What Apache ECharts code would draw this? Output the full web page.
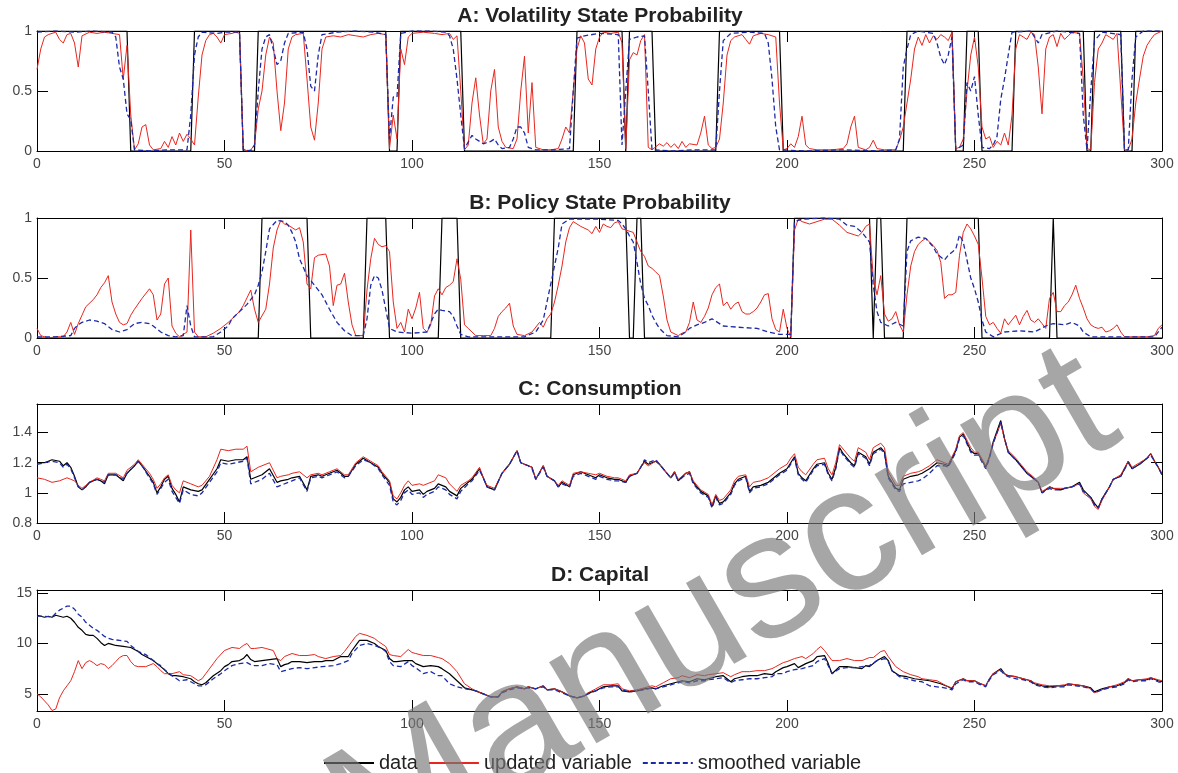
<!DOCTYPE html>
<html>
<head>
<meta charset="utf-8">
<script src="https://cdn.jsdelivr.net/npm/echarts@6/dist/echarts.min.js"></script>
<style>
  html, body { margin: 0; padding: 0; background: #fff; }
  #chart { width: 1178px; height: 773px; }
</style>
</head>
<body>
<div id="chart"></div>
<script>
// tick labels
var xTicks = [0, 50, 100, 150, 200, 250, 300];
var aTicks = [0, 0.5, 1];
var bTicks = [0, 0.5, 1];
var cTicks = [0.8, 1, 1.2, 1.4];
var dTicks = [5, 10, 15];

var seriesNames = ['data', 'updated variable', 'smoothed variable'];

// A: volatility state probability  [t, value]
var aData = [[0,1],[24,1],[25,0],[41,0],[42,1],[54,1],[55,0],[58,0],[59,1],[93,1],[94,0],[96,0],[97,1],[113,1],[114,0],[143,0],[144,1],[156,1],[157,0],[158,1],[164,1],[165,0],[181,0],[182,1],[198,1],[199,0],[231,0],[232,1],[244,1],[245,0],[247,0],[248,1],[251,1],[252,0],[260,0],[261,1],[279,1],[280,0],[281,0],[282,1],[289,1],[290,0],[292,0],[293,1],[300,1]];
var aUpdated = [[0,0.68],[1,0.85],[2,0.95],[3,0.97],[5,0.99],[6,0.93],[7,0.9],[8,0.97],[9,0.98],[10,0.9],[11,0.7],[12,0.96],[14,0.99],[16,0.98],[18,0.99],[20,0.98],[22,0.97],[23,0.6],[24,0.88],[25,0.3],[26,0.01],[27,0.06],[28,0.2],[29,0.22],[30,0.05],[31,0.01],[33,0.02],[34,0.08],[35,0.03],[36,0.12],[37,0.05],[38,0.15],[39,0.08],[40,0.14],[41,0.1],[42,0.05],[43,0.45],[44,0.8],[45,0.92],[46,0.97],[47,0.98],[48,0.95],[49,0.9],[50,0.97],[52,0.98],[53,0.99],[54,0.98],[55,0.02],[56,0],[57,0.01],[58,0.05],[59,0.35],[60,0.5],[61,0.8],[62,0.95],[63,0.9],[64,0.5],[65,0.17],[66,0.4],[67,0.85],[68,0.95],[69,0.97],[71,0.98],[72,0.6],[73,0.2],[74,0.09],[75,0.4],[76,0.85],[77,0.95],[79,0.96],[81,0.95],[83,0.97],[85,0.96],[87,0.95],[89,0.97],[91,0.98],[93,0.97],[94,0.02],[95,0.3],[96,0.1],[97,0.85],[98,0.72],[99,0.95],[100,0.98],[103,0.99],[106,0.98],[108,0.97],[110,0.98],[111,0.93],[112,0.96],[113,0.5],[114,0.01],[115,0.05],[116,0.4],[117,0.61],[118,0.3],[119,0.06],[120,0.1],[121,0.5],[122,0.68],[123,0.2],[124,0.08],[125,0.03],[127,0.02],[128,0.1],[129,0.5],[130,0.79],[131,0.15],[132,0.57],[133,0.03],[135,0.01],[137,0.01],[139,0.02],[140,0.1],[141,0.2],[142,0.15],[143,0.5],[144,0.85],[145,0.96],[146,0.9],[147,0.6],[148,0.55],[149,0.85],[150,0.95],[151,0.99],[153,0.98],[155,0.99],[156,0.9],[157,0.02],[158,0.76],[159,0.82],[160,0.8],[161,0.92],[162,0.97],[163,0.03],[164,0.01],[166,0.06],[167,0.04],[168,0.07],[169,0.03],[170,0.06],[171,0.02],[172,0.08],[173,0.03],[174,0.06],[176,0.05],[177,0.15],[178,0.29],[179,0.05],[180,0.02],[181,0.03],[182,0.1],[183,0.4],[184,0.8],[185,0.92],[186,0.95],[188,0.97],[189,0.93],[190,0.89],[191,0.96],[193,0.98],[195,0.97],[197,0.95],[198,0.4],[199,0.01],[200,0.02],[201,0.06],[202,0.03],[203,0.12],[204,0.29],[205,0.05],[206,0.02],[208,0.01],[212,0.01],[215,0.02],[216,0.06],[217,0.2],[218,0.29],[219,0.03],[221,0.01],[222,0.03],[223,0.09],[224,0.02],[226,0.01],[229,0.01],[230,0.09],[231,0.2],[232,0.4],[233,0.6],[234,0.85],[235,0.95],[236,0.88],[237,0.97],[238,0.9],[239,0.96],[240,0.93],[241,0.97],[242,0.95],[243,0.92],[244,0.99],[245,0.02],[246,0.03],[247,0.1],[248,0.5],[249,0.8],[250,0.95],[251,0.7],[252,0.2],[253,0.1],[254,0.12],[255,0.03],[256,0.08],[257,0.05],[258,0.15],[259,0.05],[260,0.3],[261,0.85],[262,0.97],[263,0.95],[264,0.93],[265,0.99],[266,0.97],[267,0.7],[268,0.31],[269,0.85],[270,0.95],[271,0.97],[272,0.87],[273,0.98],[274,0.93],[275,0.96],[276,0.99],[278,0.98],[279,0.6],[280,0.02],[281,0.01],[282,0.57],[283,0.85],[284,0.9],[285,0.97],[286,0.95],[287,0.93],[288,0.98],[289,0.5],[290,0.01],[291,0.01],[292,0.1],[293,0.4],[294,0.6],[295,0.79],[296,0.88],[297,0.93],[298,0.97],[300,1]];
var aSmoothed = [[0,0.99],[5,1],[10,0.99],[15,1],[20,0.99],[21,0.95],[22,0.7],[23,0.6],[24,0.31],[25,0.26],[26,0.01],[30,0],[35,0.01],[40,0.01],[41,0.3],[42,0.8],[43,0.95],[44,0.99],[48,0.98],[50,0.99],[54,0.99],[55,0.01],[57,0],[58,0.05],[59,0.5],[60,0.85],[61,0.95],[62,0.97],[63,0.85],[64,0.72],[65,0.75],[66,0.9],[67,0.98],[71,0.99],[72,0.85],[73,0.54],[74,0.5],[75,0.8],[76,0.97],[80,0.99],[85,1],[90,0.99],[93,0.97],[94,0.1],[95,0.45],[96,0.45],[97,0.98],[100,1],[105,1],[109,0.99],[110,0.96],[111,0.85],[112,0.6],[113,0.3],[114,0.02],[116,0.13],[117,0.1],[118,0.08],[119,0.06],[121,0.08],[122,0.1],[123,0.05],[124,0.02],[126,0.03],[127,0.1],[128,0.2],[129,0.2],[130,0.15],[131,0.03],[133,0.01],[138,0.01],[142,0.02],[143,0.5],[144,0.94],[146,0.96],[150,0.98],[155,0.97],[156,0.05],[157,0.5],[158,0.93],[160,0.95],[162,0.96],[163,0.5],[164,0.01],[170,0],[175,0.01],[181,0.01],[182,0.5],[183,0.92],[185,0.98],[190,0.99],[194,0.98],[195,0.9],[196,0.6],[197,0.2],[198,0.01],[205,0],[215,0.01],[225,0],[229,0.01],[230,0.1],[231,0.7],[232,0.85],[233,0.97],[235,1],[239,0.98],[240,0.9],[241,0.78],[242,0.72],[243,0.8],[244,0.95],[245,0.01],[247,0.05],[248,0.57],[249,0.5],[250,0.62],[251,0.3],[252,0.03],[254,0.02],[255,0.05],[256,0.12],[257,0.43],[258,0.6],[259,0.8],[260,0.99],[265,1],[267,0.9],[268,0.97],[272,1],[278,0.98],[279,0.3],[280,0.01],[281,0.5],[282,0.92],[284,0.99],[289,0.97],[290,0.01],[291,0.01],[292,0.6],[293,0.95],[295,1],[300,1]];

// B: policy state probability
var bData = [[0,0],[59,0],[60,1],[72,1],[73,0],[87,0],[88,1],[93,1],[94,0],[107,0],[108,1],[112,1],[113,0],[137,0],[138,1],[157,1],[158,0],[159,0],[160,1],[161,1],[162,0],[201,0],[202,1],[222,1],[223,0],[224,1],[225,1],[226,0],[231,0],[232,1],[251,1],[252,0],[270,0],[271,1],[272,0],[300,0]];
var bUpdated = [[0,0.08],[1,0.02],[3,0],[5,0.01],[7,0.01],[8,0.05],[9,0.13],[10,0.03],[11,0.12],[12,0.19],[13,0.26],[15,0.32],[16,0.36],[17,0.42],[18,0.46],[19,0.52],[20,0.3],[21,0.2],[22,0.13],[23,0.11],[24,0.12],[25,0.19],[26,0.24],[28,0.33],[30,0.41],[31,0.36],[32,0.15],[33,0.2],[34,0.45],[35,0.5],[36,0.1],[37,0.04],[38,0.01],[40,0.05],[41,0.9],[42,0.05],[43,0.01],[45,0.01],[47,0.04],[49,0.08],[51,0.13],[52,0.16],[54,0.22],[55,0.27],[57,0.4],[58,0.24],[59,0.13],[61,0.24],[62,0.45],[63,0.75],[64,0.9],[65,0.98],[66,0.95],[67,0.94],[68,0.92],[69,0.9],[70,0.92],[71,0.8],[72,0.45],[73,0.41],[74,0.67],[75,0.69],[77,0.7],[78,0.6],[79,0.27],[80,0.44],[81,0.45],[82,0.54],[83,0.3],[84,0.11],[85,0.02],[87,0.02],[88,0.4],[89,0.66],[90,0.83],[91,0.78],[92,0.76],[93,0.77],[94,0.72],[95,0.3],[96,0.08],[97,0.13],[98,0.05],[99,0.24],[100,0.16],[101,0.25],[102,0.38],[103,0.08],[104,0.05],[105,0.11],[106,0.35],[107,0.41],[108,0.36],[109,0.42],[110,0.44],[111,0.47],[112,0.66],[113,0.49],[114,0.11],[115,0.08],[117,0.02],[119,0.02],[121,0.02],[122,0.08],[123,0.18],[124,0.22],[125,0.25],[126,0.29],[127,0.1],[128,0.03],[130,0.02],[132,0.05],[134,0.13],[135,0.09],[136,0.16],[137,0.2],[138,0.3],[139,0.44],[140,0.6],[141,0.8],[142,0.92],[143,0.97],[144,0.95],[145,0.93],[147,0.9],[148,0.87],[149,0.93],[150,0.88],[151,0.95],[152,0.93],[153,0.92],[154,0.96],[155,0.97],[156,0.91],[157,0.9],[159,0.88],[160,0.8],[161,0.72],[162,0.68],[163,0.6],[164,0.58],[165,0.55],[166,0.52],[167,0.35],[168,0.15],[169,0.05],[171,0.02],[172,0.04],[173,0.05],[174,0.13],[175,0.3],[176,0.15],[177,0.13],[178,0.18],[179,0.25],[180,0.36],[181,0.42],[182,0.45],[183,0.27],[184,0.3],[185,0.24],[186,0.28],[187,0.3],[188,0.22],[189,0.2],[190,0.2],[191,0.22],[192,0.25],[193,0.3],[194,0.36],[195,0.37],[196,0.16],[197,0.07],[198,0.05],[199,0.24],[200,0.08],[201,0.01],[202,0.9],[203,0.99],[204,0.97],[206,0.95],[208,0.97],[210,0.99],[212,0.99],[214,0.94],[216,0.88],[218,0.86],[219,0.85],[220,0.88],[221,0.93],[222,0.95],[223,0.5],[224,0.36],[225,0.52],[226,0.2],[227,0.14],[228,0.16],[229,0.22],[230,0.11],[231,0.05],[232,0.36],[233,0.6],[234,0.72],[235,0.78],[236,0.81],[237,0.83],[238,0.8],[239,0.77],[240,0.73],[241,0.63],[242,0.33],[243,0.36],[244,0.36],[245,0.38],[246,0.69],[247,0.88],[248,0.95],[249,0.91],[250,0.85],[251,0.78],[252,0.5],[253,0.18],[254,0.11],[255,0.13],[256,0.08],[257,0.04],[258,0.16],[259,0.11],[260,0.15],[261,0.19],[262,0.11],[263,0.18],[264,0.23],[265,0.15],[266,0.13],[267,0.16],[268,0.12],[269,0.08],[270,0.33],[271,0.38],[272,0.22],[273,0.22],[274,0.27],[275,0.3],[276,0.36],[277,0.44],[278,0.33],[279,0.25],[280,0.16],[281,0.11],[282,0.09],[283,0.08],[284,0.09],[285,0.05],[286,0.06],[287,0.08],[288,0.11],[289,0.05],[290,0.01],[293,0.01],[296,0.01],[298,0.02],[299,0.08],[300,0.11]];
var bSmoothed = [[0,0.01],[5,0.01],[9,0.02],[10,0.08],[11,0.11],[12,0.13],[14,0.15],[16,0.14],[18,0.12],[20,0.07],[22,0.05],[24,0.07],[26,0.12],[28,0.13],[30,0.12],[31,0.1],[33,0.05],[35,0.02],[37,0.01],[39,0.02],[40,0.27],[41,0.1],[42,0.01],[47,0.01],[49,0.05],[51,0.1],[52,0.16],[54,0.22],[56,0.28],[58,0.36],[59,0.44],[60,0.55],[61,0.72],[62,0.91],[64,0.98],[66,0.97],[67,0.94],[68,0.88],[69,0.8],[70,0.66],[72,0.52],[74,0.44],[76,0.36],[78,0.24],[80,0.13],[82,0.06],[84,0.02],[87,0.02],[88,0.16],[89,0.44],[90,0.52],[91,0.5],[92,0.4],[93,0.24],[94,0.08],[96,0.05],[100,0.04],[104,0.05],[106,0.2],[107,0.24],[108,0.23],[110,0.22],[111,0.18],[112,0.1],[113,0.03],[115,0.01],[125,0.01],[130,0.01],[133,0.05],[135,0.15],[136,0.3],[137,0.45],[138,0.6],[139,0.75],[140,0.95],[142,0.99],[150,0.99],[155,0.98],[156,0.95],[157,0.91],[158,0.85],[159,0.8],[160,0.63],[161,0.45],[162,0.33],[163,0.27],[164,0.19],[165,0.13],[166,0.08],[168,0.02],[171,0.01],[173,0.05],[174,0.08],[176,0.11],[178,0.13],[180,0.16],[183,0.1],[187,0.09],[192,0.08],[195,0.05],[198,0.03],[201,0.03],[202,0.97],[204,0.99],[210,1],[214,0.99],[216,0.94],[218,0.93],[220,0.88],[222,0.8],[223,0.44],[224,0.22],[225,0.13],[227,0.1],[229,0.13],[231,0.1],[232,0.72],[233,0.81],[235,0.84],[237,0.83],[239,0.76],[240,0.7],[242,0.65],[243,0.69],[245,0.74],[246,0.86],[247,0.8],[248,0.65],[249,0.5],[250,0.41],[251,0.3],[252,0.15],[253,0.05],[255,0.01],[258,0.05],[262,0.06],[266,0.05],[269,0.1],[271,0.12],[274,0.11],[276,0.13],[278,0.1],[279,0.05],[281,0.01],[290,0.01],[298,0.01],[300,0.09]];

// C: consumption
var cData = [[0,1.2],[2,1.2],[4,1.22],[6,1.21],[7,1.18],[8,1.2],[9,1.17],[10,1.11],[11,1.04],[12,1.02],[13,1.04],[14,1.07],[16,1.09],[17,1.08],[18,1.06],[19,1.12],[21,1.12],[23,1.08],[24,1.13],[26,1.18],[27,1.21],[28,1.18],[30,1.11],[31,1.07],[32,1.0],[33,1.04],[34,1.09],[35,1.11],[36,1.03],[37,0.99],[38,0.94],[39,1.04],[41,1.02],[43,1.01],[44,1.02],[46,1.09],[48,1.16],[49,1.22],[51,1.21],[53,1.22],[55,1.22],[56,1.24],[57,1.09],[59,1.11],[60,1.12],[62,1.16],[64,1.07],[65,1.08],[67,1.09],[68,1.1],[70,1.11],[72,1.02],[73,1.11],[75,1.12],[76,1.11],[78,1.13],[80,1.15],[82,1.11],[83,1.11],[85,1.19],[87,1.23],[89,1.2],[91,1.17],[92,1.13],[94,1.07],[95,0.96],[96,0.94],[97,0.97],[98,1.02],[99,1.04],[100,1.01],[102,1.02],[103,0.99],[104,1.01],[106,1.03],[107,1.06],[109,1.04],[110,1.01],[112,0.98],[113,1.03],[115,1.07],[116,1.09],[118,1.16],[119,1.1],[120,1.04],[122,1.02],[124,1.13],[126,1.19],[128,1.28],[129,1.2],[131,1.18],[132,1.17],[133,1.09],[135,1.18],[136,1.11],[138,1.08],[139,1.04],[140,1.07],[142,1.04],[143,1.12],[145,1.14],[147,1.12],[149,1.1],[150,1.12],[152,1.1],[154,1.09],[155,1.09],[157,1.07],[158,1.11],[160,1.13],[161,1.17],[162,1.21],[163,1.19],[165,1.21],[166,1.19],[167,1.16],[169,1.1],[170,1.14],[171,1.08],[173,1.13],[174,1.14],[175,1.07],[177,1.01],[179,0.98],[180,0.91],[181,0.98],[182,0.93],[183,0.94],[185,1.0],[186,1.06],[187,1.09],[189,1.11],[190,1.01],[191,1.04],[193,1.05],[195,1.07],[196,1.09],[198,1.13],[200,1.16],[201,1.2],[202,1.24],[203,1.13],[204,1.1],[205,1.08],[207,1.16],[208,1.19],[210,1.2],[211,1.13],[212,1.09],[213,1.17],[214,1.3],[215,1.26],[217,1.2],[218,1.18],[219,1.27],[221,1.24],[222,1.19],[223,1.27],[225,1.3],[226,1.27],[227,1.11],[229,1.03],[230,1.02],[231,1.09],[233,1.11],[235,1.12],[236,1.13],[238,1.16],[240,1.2],[242,1.19],[243,1.18],[245,1.28],[246,1.37],[247,1.39],[249,1.28],[250,1.26],[251,1.26],[253,1.17],[254,1.24],[255,1.34],[257,1.48],[258,1.36],[259,1.27],[261,1.22],[262,1.19],[264,1.13],[266,1.09],[267,1.07],[268,1.0],[270,1.04],[271,1.03],[273,1.02],[274,1.03],[276,1.04],[278,1.07],[279,1.02],[281,0.97],[282,0.93],[283,0.9],[284,0.96],[286,1.04],[287,1.09],[289,1.11],[291,1.21],[292,1.16],[294,1.19],[296,1.23],[297,1.26],[298,1.21],[299,1.17],[300,1.12]];
var cUpdated = [[0,1.1],[2,1.09],[4,1.07],[6,1.08],[8,1.1],[9,1.09],[10,1.08],[11,1.05],[12,1.03],[13,1.05],[14,1.07],[16,1.1],[17,1.09],[18,1.08],[19,1.13],[21,1.13],[23,1.1],[24,1.15],[26,1.19],[27,1.22],[28,1.19],[30,1.13],[31,1.09],[32,1.03],[33,1.06],[34,1.1],[35,1.12],[36,1.05],[37,1.02],[38,1.0],[39,1.08],[41,1.06],[43,1.04],[44,1.05],[46,1.11],[48,1.22],[49,1.29],[51,1.28],[53,1.29],[55,1.29],[56,1.31],[57,1.14],[59,1.17],[60,1.18],[62,1.2],[64,1.1],[65,1.11],[67,1.12],[68,1.13],[70,1.14],[72,1.1],[73,1.12],[75,1.13],[76,1.12],[78,1.14],[80,1.16],[82,1.12],[83,1.12],[85,1.2],[87,1.24],[89,1.21],[91,1.18],[92,1.14],[94,1.08],[95,0.98],[96,0.96],[97,1.0],[98,1.05],[99,1.08],[100,1.05],[102,1.06],[103,1.05],[104,1.06],[106,1.08],[107,1.12],[109,1.1],[110,1.06],[112,1.01],[113,1.05],[115,1.08],[116,1.1],[118,1.17],[119,1.1],[120,1.05],[122,1.03],[124,1.13],[126,1.19],[128,1.28],[129,1.2],[131,1.18],[132,1.17],[133,1.09],[135,1.18],[136,1.11],[138,1.08],[139,1.05],[140,1.08],[142,1.05],[143,1.13],[145,1.14],[147,1.13],[149,1.12],[150,1.13],[152,1.11],[154,1.1],[155,1.1],[157,1.08],[158,1.12],[160,1.13],[161,1.17],[162,1.2],[163,1.18],[165,1.21],[166,1.19],[167,1.16],[169,1.1],[170,1.14],[171,1.09],[173,1.13],[174,1.14],[175,1.08],[177,1.02],[179,0.99],[180,0.92],[181,0.99],[182,0.95],[183,0.96],[185,1.02],[186,1.08],[187,1.11],[189,1.12],[190,1.04],[191,1.07],[193,1.08],[195,1.1],[196,1.12],[198,1.16],[200,1.19],[201,1.23],[202,1.26],[203,1.17],[204,1.14],[205,1.12],[207,1.19],[208,1.22],[210,1.23],[211,1.16],[212,1.12],[213,1.2],[214,1.32],[215,1.29],[217,1.23],[218,1.21],[219,1.3],[221,1.27],[222,1.22],[223,1.3],[225,1.33],[226,1.3],[227,1.14],[229,1.05],[230,1.05],[231,1.11],[233,1.13],[235,1.14],[236,1.15],[238,1.18],[240,1.22],[242,1.2],[243,1.19],[245,1.29],[246,1.38],[247,1.4],[249,1.3],[250,1.27],[251,1.27],[253,1.18],[254,1.24],[255,1.33],[257,1.46],[258,1.36],[259,1.28],[261,1.23],[262,1.2],[264,1.14],[266,1.1],[267,1.07],[268,1.01],[270,1.04],[271,1.03],[273,1.03],[274,1.03],[276,1.04],[278,1.06],[279,1.0],[281,0.96],[282,0.91],[283,0.89],[284,0.95],[286,1.04],[287,1.09],[289,1.12],[291,1.21],[292,1.17],[294,1.2],[296,1.23],[297,1.26],[298,1.21],[299,1.17],[300,1.13]];
var cSmoothed = [[0,1.19],[2,1.2],[4,1.21],[6,1.2],[7,1.17],[8,1.19],[9,1.16],[10,1.1],[11,1.04],[12,1.02],[13,1.04],[14,1.07],[16,1.09],[17,1.08],[18,1.07],[19,1.12],[21,1.12],[23,1.09],[24,1.13],[26,1.18],[27,1.21],[28,1.18],[30,1.1],[31,1.06],[32,0.99],[33,1.03],[34,1.07],[35,1.09],[36,1.01],[37,0.97],[38,0.93],[39,1.02],[41,0.99],[43,0.98],[44,1.0],[46,1.07],[48,1.14],[49,1.2],[51,1.19],[53,1.2],[55,1.21],[56,1.23],[57,1.06],[59,1.08],[60,1.09],[62,1.13],[64,1.04],[65,1.05],[67,1.07],[68,1.08],[70,1.1],[72,1.01],[73,1.1],[75,1.11],[76,1.1],[78,1.12],[80,1.14],[82,1.1],[83,1.11],[85,1.18],[87,1.22],[89,1.2],[91,1.16],[92,1.12],[94,1.05],[95,0.94],[96,0.92],[97,0.95],[98,1.0],[99,1.02],[100,0.99],[102,1.0],[103,0.97],[104,0.99],[106,1.01],[107,1.04],[109,1.02],[110,0.99],[112,0.96],[113,1.01],[115,1.06],[116,1.08],[118,1.15],[119,1.1],[120,1.04],[122,1.02],[124,1.13],[126,1.19],[128,1.28],[129,1.2],[131,1.18],[132,1.16],[133,1.09],[135,1.17],[136,1.11],[138,1.08],[139,1.04],[140,1.06],[142,1.04],[143,1.11],[145,1.13],[147,1.11],[149,1.09],[150,1.11],[152,1.09],[154,1.08],[155,1.08],[157,1.07],[158,1.11],[160,1.13],[161,1.17],[162,1.22],[163,1.2],[165,1.22],[166,1.19],[167,1.16],[169,1.1],[170,1.13],[171,1.08],[173,1.12],[174,1.13],[175,1.06],[177,1.0],[179,0.97],[180,0.9],[181,0.97],[182,0.92],[183,0.93],[185,0.99],[186,1.05],[187,1.08],[189,1.1],[190,1.0],[191,1.03],[193,1.04],[195,1.06],[196,1.08],[198,1.12],[200,1.15],[201,1.19],[202,1.23],[203,1.12],[204,1.09],[205,1.07],[207,1.15],[208,1.18],[210,1.19],[211,1.12],[212,1.08],[213,1.16],[214,1.29],[215,1.25],[217,1.19],[218,1.17],[219,1.26],[221,1.23],[222,1.18],[223,1.26],[225,1.29],[226,1.26],[227,1.1],[229,1.02],[230,1.01],[231,1.06],[233,1.07],[235,1.08],[236,1.09],[238,1.13],[240,1.18],[242,1.18],[243,1.17],[245,1.27],[246,1.36],[247,1.38],[249,1.27],[250,1.25],[251,1.25],[253,1.16],[254,1.23],[255,1.33],[257,1.47],[258,1.36],[259,1.27],[261,1.22],[262,1.19],[264,1.13],[266,1.09],[267,1.07],[268,1.0],[270,1.03],[271,1.02],[273,1.02],[274,1.03],[276,1.04],[278,1.06],[279,1.01],[281,0.97],[282,0.92],[283,0.9],[284,0.96],[286,1.04],[287,1.09],[289,1.11],[291,1.2],[292,1.16],[294,1.19],[296,1.23],[297,1.25],[298,1.21],[299,1.17],[300,1.12]];

// D: capital
var dData = [[0,12.8],[1,12.7],[2,12.6],[3,12.7],[4,12.6],[5,12.8],[6,12.7],[7,12.6],[8,12.7],[9,12.5],[10,12.1],[11,11.6],[12,11.3],[13,10.9],[14,10.8],[15,10.8],[16,10.5],[17,10.1],[18,9.8],[19,10.0],[20,9.9],[21,9.8],[23,9.7],[25,9.6],[26,9.4],[27,9.2],[28,8.9],[30,8.5],[31,8.3],[32,8.0],[33,7.7],[34,7.4],[35,7.0],[36,6.8],[37,6.8],[39,6.7],[41,6.5],[42,6.2],[43,6.0],[44,5.9],[45,6.1],[47,6.8],[49,7.3],[50,7.7],[51,7.9],[52,8.2],[54,8.3],[55,8.5],[56,8.9],[57,8.4],[58,8.2],[60,8.3],[62,8.4],[64,8.5],[65,7.7],[66,7.9],[67,8.0],[68,8.2],[70,8.2],[72,8.1],[74,8.2],[76,8.2],[77,8.3],[79,8.3],[81,8.7],[83,8.7],[84,9.3],[85,9.8],[86,10.3],[88,10.3],[90,10.0],[91,9.7],[93,9.3],[94,8.5],[95,8.2],[96,8.2],[98,8.3],[100,8.3],[101,8.0],[103,7.7],[105,7.8],[107,7.7],[108,7.5],[110,7.0],[112,6.3],[114,5.6],[116,5.4],[117,5.3],[119,5.0],[121,4.7],[123,4.7],[124,5.2],[126,5.5],[128,5.7],[130,5.5],[131,5.7],[133,5.5],[135,5.8],[136,5.4],[138,5.5],[140,5.2],[142,4.8],[144,4.6],[146,4.8],[147,5.1],[149,5.3],[151,5.7],[153,5.8],[155,5.8],[156,5.3],[158,5.2],[160,5.3],[162,5.5],[164,5.6],[165,5.5],[167,5.8],[169,6.0],[171,6.2],[172,6.3],[174,6.2],[176,6.5],[178,6.4],[179,6.5],[181,6.7],[183,6.8],[185,6.2],[186,6.5],[188,6.7],[190,6.8],[192,6.8],[194,7.0],[196,6.9],[197,7.2],[199,7.6],[200,7.7],[202,8.0],[203,7.6],[205,8.0],[207,8.3],[208,8.7],[210,8.8],[211,8.0],[212,7.0],[214,7.7],[216,7.7],[218,7.6],[220,7.5],[221,7.8],[222,7.7],[224,8.3],[226,8.7],[227,8.3],[228,7.3],[230,6.8],[232,6.7],[234,6.5],[236,6.4],[238,6.3],[239,6.2],[241,6.0],[243,5.7],[244,5.5],[245,6.2],[247,6.5],[248,6.3],[250,6.3],[251,6.1],[253,5.8],[254,6.5],[255,7.0],[257,7.5],[258,7.0],[259,6.8],[261,6.7],[263,6.5],[265,6.3],[266,6.0],[268,5.8],[270,5.7],[272,5.8],[274,5.8],[275,6.0],[277,5.9],[279,5.8],[281,5.6],[282,5.2],[284,5.5],[286,5.7],[288,5.8],[290,6.1],[291,6.5],[292,6.3],[294,6.4],[296,6.4],[297,6.6],[299,6.3],[300,6.2]];
var dUpdated = [[0,5.0],[1,4.7],[2,4.3],[3,3.9],[4,3.35],[5,3.5],[6,4.6],[7,5.3],[8,5.8],[9,6.3],[10,7.2],[11,8.3],[12,7.5],[13,8.1],[14,8.3],[15,8.1],[16,7.8],[17,8.0],[18,7.9],[19,7.5],[20,7.8],[21,8.2],[22,8.6],[23,8.8],[24,8.8],[25,8.2],[26,7.8],[27,7.7],[29,7.7],[31,8.0],[32,7.7],[33,7.3],[34,7.0],[36,7.0],[38,7.2],[39,6.9],[41,6.8],[43,6.3],[44,6.5],[45,7.0],[47,8.0],[48,8.5],[50,9.3],[52,9.6],[54,9.5],[55,9.8],[56,10.0],[57,9.5],[58,9.5],[60,9.6],[61,9.5],[63,9.3],[64,8.5],[65,8.3],[66,8.7],[68,9.0],[70,8.8],[72,8.8],[74,8.9],[75,8.7],[77,8.5],[79,8.7],[81,8.8],[82,9.2],[84,10.2],[85,10.7],[86,11.0],[88,10.8],[90,10.5],[91,10.2],[93,9.7],[94,8.9],[95,8.8],[97,8.7],[99,9.4],[100,9.1],[101,9.0],[103,8.8],[105,8.8],[107,8.6],[108,8.5],[110,8.0],[112,7.2],[114,6.0],[116,5.5],[117,5.3],[119,5.0],[121,4.7],[123,4.7],[124,5.2],[126,5.5],[128,5.7],[130,5.5],[131,5.7],[133,5.5],[135,5.8],[136,5.4],[138,5.5],[140,5.2],[142,4.8],[144,4.6],[146,4.8],[147,5.1],[149,5.5],[151,5.9],[153,5.9],[155,6.0],[156,5.5],[158,5.3],[160,5.4],[162,5.6],[164,5.8],[165,5.7],[167,6.1],[169,6.5],[171,6.6],[172,6.8],[174,6.6],[176,6.9],[178,6.8],[179,6.9],[181,7.0],[183,7.1],[185,6.7],[186,6.9],[188,7.2],[190,7.2],[192,7.3],[194,7.3],[196,7.5],[197,7.7],[199,8.1],[200,8.2],[202,8.5],[204,8.7],[205,8.5],[207,9.0],[208,9.4],[209,9.7],[210,9.3],[212,8.3],[214,8.3],[216,8.5],[218,8.3],[220,8.3],[222,8.6],[223,8.6],[225,9.2],[226,9.3],[227,8.7],[229,7.7],[231,7.2],[233,6.9],[235,6.7],[236,6.5],[238,6.4],[240,6.3],[242,5.9],[243,5.7],[244,5.6],[245,6.2],[247,6.5],[248,6.3],[250,6.3],[251,6.1],[253,5.8],[254,6.5],[255,7.0],[257,7.4],[258,7.0],[259,6.8],[261,6.7],[263,6.5],[265,6.3],[266,6.1],[268,5.9],[270,5.8],[272,5.8],[274,5.9],[275,6.0],[277,5.9],[279,5.8],[281,5.5],[282,5.1],[284,5.4],[286,5.7],[288,5.9],[290,6.2],[291,6.5],[292,6.3],[294,6.4],[296,6.5],[297,6.6],[299,6.4],[300,6.3]];
var dSmoothed = [[0,12.7],[2,12.7],[4,12.6],[5,13.0],[6,13.3],[7,13.5],[8,13.7],[9,13.7],[10,13.4],[11,12.9],[12,12.6],[13,12.1],[14,11.8],[15,11.5],[16,11.3],[17,11.0],[18,10.7],[19,10.5],[20,10.4],[22,10.3],[24,10.2],[25,9.8],[26,9.5],[27,9.2],[29,8.9],[31,8.3],[32,8.0],[33,7.8],[34,7.4],[36,6.8],[38,6.3],[40,6.4],[41,6.2],[42,6.0],[43,5.8],[44,5.8],[45,5.9],[47,6.5],[49,7.0],[50,7.3],[52,7.8],[54,8.0],[56,8.1],[57,7.9],[58,7.8],[60,7.8],[62,8.0],[64,7.9],[65,7.2],[66,7.3],[68,7.5],[70,7.6],[72,7.5],[74,7.6],[76,7.7],[79,7.8],[81,8.0],[83,8.3],[84,9.0],[86,9.8],[88,10.0],[90,9.8],[92,9.5],[93,9.2],[94,8.2],[95,7.8],[97,7.7],[99,8.2],[100,7.8],[101,7.6],[103,7.0],[105,7.2],[107,6.8],[108,6.8],[110,6.0],[112,5.7],[114,5.5],[116,5.4],[117,5.3],[119,5.0],[121,4.7],[123,4.7],[124,5.1],[126,5.4],[128,5.6],[130,5.5],[131,5.6],[133,5.5],[135,5.7],[136,5.4],[138,5.4],[140,5.1],[142,4.8],[144,4.6],[146,4.8],[147,5.0],[149,5.3],[151,5.6],[153,5.7],[155,5.7],[156,5.4],[158,5.2],[160,5.3],[162,5.4],[164,5.6],[165,5.5],[167,5.7],[169,5.9],[171,6.1],[172,6.2],[174,6.1],[176,6.3],[178,6.3],[179,6.4],[181,6.5],[183,6.6],[185,6.1],[186,6.3],[188,6.4],[190,6.5],[192,6.5],[194,6.6],[196,6.7],[197,7.0],[199,7.0],[200,7.2],[202,7.4],[204,7.5],[205,7.6],[207,7.8],[208,8.2],[210,8.5],[211,7.8],[212,7.0],[214,7.5],[216,7.6],[218,7.6],[220,7.7],[222,7.8],[224,8.3],[226,8.5],[227,8.2],[228,7.3],[230,6.7],[232,6.5],[234,6.3],[236,6.2],[238,5.8],[240,5.7],[242,5.6],[243,5.5],[244,5.4],[245,6.0],[247,6.4],[248,6.2],[250,6.2],[251,6.0],[253,5.7],[254,6.4],[255,6.9],[257,7.3],[258,6.9],[259,6.7],[261,6.5],[263,6.4],[265,6.2],[266,5.9],[268,5.7],[270,5.6],[272,5.7],[274,5.7],[275,5.9],[277,5.8],[279,5.7],[281,5.5],[282,5.1],[284,5.4],[286,5.6],[288,5.7],[290,6.0],[291,6.4],[292,6.2],[294,6.3],[296,6.3],[297,6.5],[299,6.2],[300,6.1]];

var chart = echarts.init(document.getElementById('chart'), null, { renderer: 'canvas' });

var panels = [
    { title: 'A: Volatility State Probability', top: 31, height: 120, min: 0, max: 1, ticks: aTicks, lines: [aData, aUpdated, aSmoothed] },
    { title: 'B: Policy State Probability', top: 218, height: 120, min: 0, max: 1, ticks: bTicks, lines: [bData, bUpdated, bSmoothed] },
    { title: 'C: Consumption', top: 404, height: 119, min: 0.8, max: 1.59, ticks: cTicks, lines: [cData, cUpdated, cSmoothed] },
    { title: 'D: Capital', top: 590, height: 121, min: 3.3, max: 15.3, ticks: dTicks, lines: [dData, dUpdated, dSmoothed] }
];

var lineStyles = [
    { color: '#000000', width: 1.2, type: 'solid' },
    { color: '#e8261e', width: 1, type: 'solid' },
    { color: '#1c2aa8', width: 1.3, type: [5, 3] }
];

var grids = [], xAxes = [], yAxes = [], series = [], graphics = [];
var labelFont = { fontFamily: 'Liberation Sans, Arial, sans-serif', fontSize: 14, color: '#444' };

panels.forEach(function (p, i) {
    grids.push({ left: 37, right: 16, top: p.top, height: p.height, containLabel: false });

    // bottom and top x axes (box with inward ticks)
    xAxes.push({
        type: 'value', gridIndex: i, position: 'bottom', min: 0, max: 300, interval: 50,
        axisLine: { show: true, onZero: false, lineStyle: { color: '#000', width: 1 } },
        axisTick: { show: true, inside: true, length: 11, lineStyle: { color: '#000' } },
        axisLabel: Object.assign({ margin: 6 }, labelFont),
        splitLine: { show: false }
    });
    xAxes.push({
        type: 'value', gridIndex: i, position: 'top', min: 0, max: 300, interval: 50,
        axisLine: { show: true, onZero: false, lineStyle: { color: '#000', width: 1 } },
        axisTick: { show: true, inside: true, length: 11, lineStyle: { color: '#000' } },
        axisLabel: { show: false },
        splitLine: { show: false }
    });
    // left and right y axes
    yAxes.push({
        type: 'value', gridIndex: i, position: 'left', min: p.min, max: p.max,
        axisLine: { show: true, onZero: false, lineStyle: { color: '#000', width: 1 } },
        axisTick: { show: true, inside: true, length: 11, customValues: p.ticks, lineStyle: { color: '#000' } },
        axisLabel: Object.assign({ margin: 5, customValues: p.ticks }, labelFont),
        splitLine: { show: false }
    });
    yAxes.push({
        type: 'value', gridIndex: i, position: 'right', min: p.min, max: p.max,
        axisLine: { show: true, onZero: false, lineStyle: { color: '#000', width: 1 } },
        axisTick: { show: true, inside: true, length: 11, customValues: p.ticks, lineStyle: { color: '#000' } },
        axisLabel: { show: false },
        splitLine: { show: false }
    });

    p.lines.forEach(function (d, k) {
        series.push({
            name: seriesNames[k],
            type: 'line',
            xAxisIndex: i * 2,
            yAxisIndex: i * 2,
            data: d,
            showSymbol: false,
            symbol: 'none',
            lineStyle: lineStyles[k],
            itemStyle: { color: lineStyles[k].color },
            z: 2 + k
        });
    });

    //panel title
    graphics.push({
        type: 'text',
        x: 600,
        y: p.top - 15,
        style: {
            text: p.title,
            font: 'bold 21px "Liberation Sans", Arial, sans-serif',
            fill: '#222',
            textAlign: 'center',
            textVerticalAlign: 'middle'
        }
    });
});

// watermark across the lower panels
graphics.push({
    type: 'text',
    x: 724,
    y: 613,
    rotation: 30 * Math.PI / 180,
    z: 100,
    style: {
        text: 'Manuscript',
        font: '178px "Liberation Sans", Arial, sans-serif',
        fill: 'rgba(120,120,120,0.66)',
        textAlign: 'center',
        textVerticalAlign: 'middle'
    }
});

var option = {
    animation: false,
    backgroundColor: '#fff',
    grid: grids,
    xAxis: xAxes,
    yAxis: yAxes,
    legend: {
        data: seriesNames,
        left: 318,
        top: 748,
        itemWidth: 50,
        itemHeight: 14,
        itemGap: 10,
        itemStyle: { color: 'transparent', borderColor: 'transparent', borderWidth: 0 },
        textStyle: { fontFamily: 'Liberation Sans, Arial, sans-serif', fontSize: 20, color: '#222' }
    },
    graphic: graphics,
    series: series
};

chart.setOption(option);
</script>
</body>
</html>
